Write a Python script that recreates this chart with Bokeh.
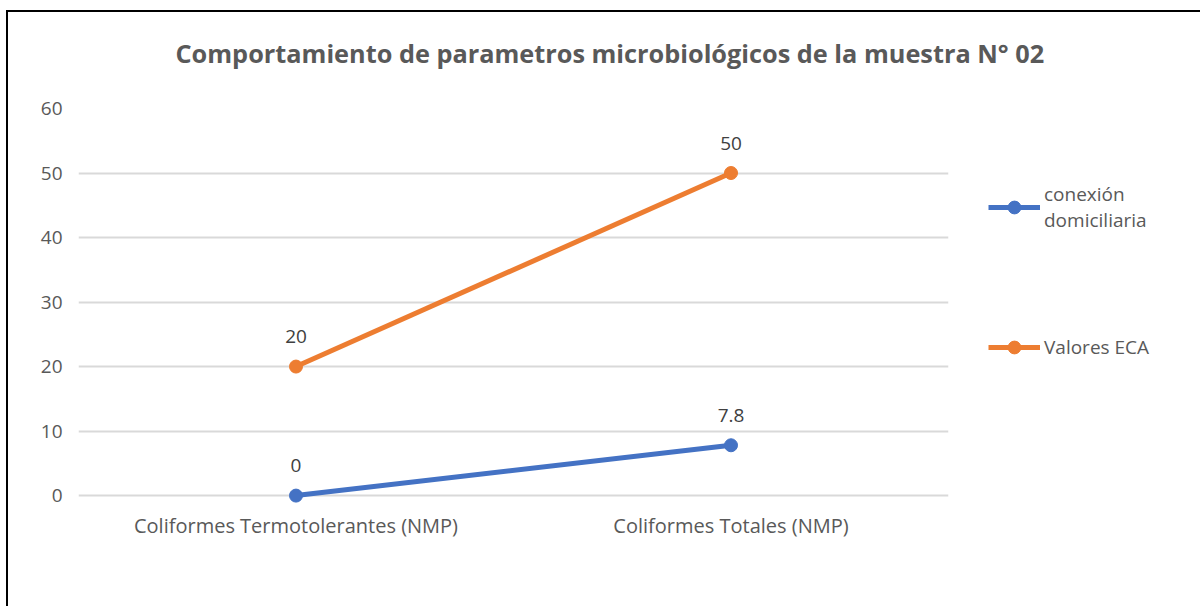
from bokeh.plotting import figure
from bokeh.models import (FactorRange, Range1d, FixedTicker, Legend, LegendItem,
                          ColumnDataSource, LabelSet)
from bokeh.core.properties import value
from bokeh.embed import file_html
from bokeh.resources import INLINE

categories = ["Coliformes Termotolerantes (NMP)", "Coliformes Totales (NMP)"]
conexion = [0, 7.8]
eca = [20, 50]
conexion_labels = ["0", "7.8"]
eca_labels = ["20", "50"]
y_ticks = [0, 10, 20, 30, 40, 50, 60]

FONT = "Open Sans"
GRAY = "#595959"
BLUE = "#4472C4"
ORANGE = "#ED7D31"

p = figure(frame_width=870, frame_height=400, output_backend="svg", toolbar_location=None,
           x_range=FactorRange(factors=categories), y_range=Range1d(-2, 60),
           min_border_left=70, min_border_right=250, min_border_top=96,
           min_border_bottom=98,
           title="Comportamiento de parametros microbiológicos de la muestra N° 02")
p.styles = {"border-left": "2px solid black", "border-top": "2px solid black",
            "margin-left": "6px", "margin-top": "10px"}

p.title.text_font = FONT
p.title.text_font_size = "25.3px"
p.title.text_font_style = "bold"
p.title.text_color = GRAY
p.title.align = "left"
p.title.vertical_align = "bottom"
p.title.offset = 97
p.title.standoff = 0
p.title.padding = dict(left=0, right=0, top=0, bottom=39)

p.outline_line_color = None
p.xgrid.grid_line_color = None
p.ygrid.grid_line_color = "#D9D9D9"
p.ygrid.grid_line_width = 2
p.yaxis.ticker = FixedTicker(ticks=y_ticks)
for ax in (p.xaxis, p.yaxis):
    ax.axis_line_color = None
    ax.major_tick_line_color = None
    ax.minor_tick_line_color = None
    ax.major_tick_out = 0
    ax.major_tick_in = 0
    ax.major_label_text_font = FONT
    ax.major_label_text_color = GRAY
p.yaxis.major_label_text_font_size = "19px"
p.xaxis.major_label_text_font_size = "20px"
p.yaxis.major_label_standoff = 16
p.xaxis.major_label_standoff = 3

src_c = ColumnDataSource(dict(x=categories, y=conexion, t=conexion_labels))
src_e = ColumnDataSource(dict(x=categories, y=eca, t=eca_labels))

lc = p.line("x", "y", source=src_c, line_color=BLUE, line_width=5)
mc = p.scatter("x", "y", source=src_c, size=13, fill_color=BLUE, line_color=BLUE)
le = p.line("x", "y", source=src_e, line_color=ORANGE, line_width=5)
me = p.scatter("x", "y", source=src_e, size=13, fill_color=ORANGE, line_color=ORANGE)

for src in (src_c, src_e):
    p.add_layout(LabelSet(x="x", y="y", text="t", source=src, y_offset=30,
                          text_align="center", text_baseline="middle",
                          text_font=value(FONT), text_font_size=value("19px"),
                          text_color="#404040"))

leg = Legend(items=[LegendItem(label="conexión\ndomiciliaria", renderers=[lc, mc]),
                    LegendItem(label="Valores ECA", renderers=[le, me])],
             location="top_left")
leg.border_line_color = None
leg.background_fill_alpha = 0
leg.padding = 0
leg.margin = 40
leg.label_height = 118
leg.glyph_height = 32
leg.spacing = 22
leg.glyph_width = 52
leg.label_standoff = 4
leg.label_text_font = FONT
leg.label_text_font_size = "19px"
leg.label_text_color = GRAY
p.add_layout(leg, "right")

open("out.html", "w").write(file_html(p, INLINE))
